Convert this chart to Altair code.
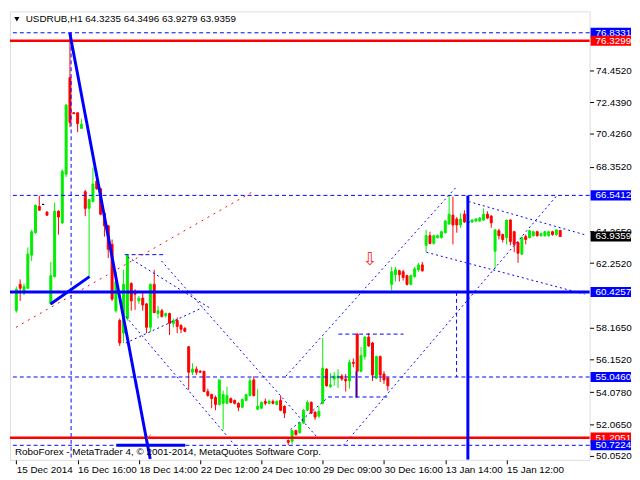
import altair as alt
import pandas as pd

# ---------------- data ----------------
opens = [59.24, 60.91, 60.35, 60.66, 62.76, 64.18, 65.84, 65.97, 65.48, 59.67,
         61.40, 65.54, 64.80, 67.88, 73.99, 71.77, 71.77, 70.78, 66.77, 65.72,
         66.15, 67.45, 66.96, 65.41, 64.61, 63.44, 59.24, 58.62, 57.82, 58.75,
         60.97, 60.47, 59.86, 60.04, 59.67, 58.19, 60.91, 59.06, 59.24, 58.93,
         59.06, 58.44, 58.62, 58.31, 58.13, 56.96, 55.35, 55.54, 55.41, 55.41,
         54.12, 53.93, 53.75, 53.31, 53.38, 53.38, 53.68, 53.56, 53.38, 53.13,
         53.56, 53.87, 54.86, 53.01, 53.07, 53.50, 53.38, 53.50, 53.31, 53.56,
         53.19, 51.03, 50.97, 51.65, 51.52, 52.14, 52.94, 53.44, 52.82, 52.57,
         53.38, 55.54, 54.43, 54.92, 54.98, 55.10, 54.92, 54.80, 55.97, 57.76,
         55.41, 56.34, 57.57, 57.20, 54.98, 56.34, 55.23, 54.98, 60.91, 61.52,
         61.77, 61.71, 61.46, 60.91, 61.40, 61.83, 62.14, 63.38, 63.99, 63.50,
         63.87, 63.87, 64.18, 64.73, 65.29, 65.04, 64.67, 65.35, 64.80, 64.86,
         64.92, 64.92, 64.98, 65.35, 65.23, 63.01, 64.30, 64.06, 63.87, 64.98,
         64.24, 63.56, 62.82, 63.93, 63.87, 63.99, 64.24, 63.99, 63.99, 63.99,
         64.24, 64.06, 64.3235]
highs = [60.78, 61.22, 60.97, 63.25, 64.36, 65.97, 66.52, 65.97, 65.54, 62.33,
         66.09, 65.60, 68.19, 72.33, 76.83, 71.80, 71.77, 71.40, 66.89, 66.28,
         68.31, 67.51, 67.02, 65.54, 64.67, 63.75, 61.71, 58.75, 61.83, 62.76,
         61.03, 60.60, 60.17, 60.47, 59.73, 60.97, 61.83, 59.55, 59.36, 59.12,
         59.12, 58.75, 58.81, 58.38, 58.19, 57.01, 55.91, 55.72, 55.48, 55.41,
         54.30, 53.99, 53.87, 54.86, 54.18, 54.43, 53.75, 53.62, 53.44, 53.68,
         53.99, 54.98, 55.10, 54.30, 53.50, 53.68, 53.62, 53.62, 53.56, 53.87,
         53.25, 51.09, 51.71, 51.71, 52.20, 53.01, 53.56, 53.50, 52.88, 53.19,
         57.51, 55.60, 55.29, 55.35, 55.54, 55.23, 55.23, 56.15, 56.22, 57.82,
         56.96, 57.63, 57.82, 57.26, 56.40, 56.40, 55.41, 55.04, 62.02, 62.02,
         61.83, 61.83, 61.52, 61.52, 62.02, 62.27, 62.33, 64.36, 64.24, 64.06,
         64.06, 64.30, 64.98, 66.52, 66.46, 65.17, 65.41, 65.60, 65.11, 65.04,
         65.11, 65.17, 65.72, 65.54, 65.29, 64.36, 64.43, 64.12, 64.98, 65.04,
         64.30, 63.62, 63.93, 64.06, 64.36, 64.30, 64.30, 64.18, 64.30, 64.30,
         64.30, 64.36, 64.3496]
lows = [59.12, 59.86, 60.23, 60.60, 62.39, 64.12, 65.60, 65.97, 65.23, 59.61,
        61.34, 64.06, 64.73, 67.70, 70.85, 71.70, 70.54, 70.78, 65.23, 61.40,
        66.09, 66.89, 65.29, 63.93, 62.57, 59.86, 59.12, 57.01, 57.20, 58.62,
        59.24, 59.30, 59.67, 59.24, 57.82, 57.88, 59.12, 58.75, 58.81, 58.81,
        57.70, 58.19, 57.82, 57.82, 57.88, 54.24, 55.17, 55.17, 55.29, 54.10,
        53.81, 53.07, 52.94, 53.25, 51.71, 53.31, 53.38, 53.31, 52.88, 53.07,
        53.50, 53.81, 53.81, 52.94, 53.01, 53.25, 53.31, 53.31, 53.25, 52.88,
        52.45, 50.72, 50.78, 51.34, 51.46, 52.08, 52.88, 52.70, 52.33, 52.45,
        53.31, 54.43, 54.36, 54.49, 54.36, 54.80, 54.12, 54.30, 55.66, 53.75,
        55.35, 56.15, 56.96, 54.80, 54.92, 54.73, 54.61, 54.18, 60.54, 61.09,
        61.09, 61.15, 60.84, 60.84, 61.34, 61.71, 61.71, 62.94, 63.44, 63.44,
        63.81, 63.81, 64.12, 64.67, 63.44, 64.18, 64.49, 64.80, 64.73, 64.80,
        64.86, 64.86, 64.92, 65.04, 64.49, 61.89, 63.75, 63.56, 63.44, 63.38,
        62.94, 62.27, 62.76, 63.44, 63.81, 63.93, 63.93, 63.93, 63.93, 63.93,
        63.99, 63.99, 63.9279]
closes = [60.60, 60.66, 60.78, 62.82, 64.24, 65.91, 65.60, 65.97, 65.29, 61.46,
          65.54, 65.17, 68.07, 72.26, 71.15, 71.71, 71.09, 71.03, 65.72, 66.28,
          67.26, 66.96, 65.35, 64.61, 63.13, 59.98, 61.09, 57.20, 60.91, 62.76,
          59.86, 60.29, 60.04, 59.61, 58.19, 60.91, 59.12, 59.24, 58.87, 59.06,
          58.44, 58.62, 58.25, 58.07, 57.94, 55.35, 55.54, 55.35, 55.35, 54.12,
          53.87, 53.68, 53.31, 54.86, 53.93, 53.87, 53.44, 53.38, 53.13, 53.62,
          53.93, 54.80, 53.87, 53.19, 53.44, 53.38, 53.50, 53.38, 53.50, 52.94,
          52.76, 50.91, 51.65, 51.40, 52.14, 52.94, 53.44, 52.76, 52.51, 52.88,
          55.60, 54.49, 54.55, 55.10, 55.10, 54.92, 54.80, 55.97, 55.91, 55.41,
          56.40, 57.57, 57.01, 55.17, 56.34, 55.17, 54.86, 54.49, 61.71, 61.83,
          61.52, 61.34, 60.91, 61.46, 61.89, 62.14, 61.77, 63.99, 63.50, 63.99,
          63.99, 64.24, 64.92, 65.35, 64.67, 64.67, 65.04, 64.86, 64.92, 64.98,
          65.04, 65.11, 65.35, 65.11, 64.80, 64.36, 63.99, 63.75, 64.98, 63.62,
          63.44, 62.88, 63.87, 63.75, 64.30, 64.24, 63.99, 64.12, 64.24, 64.24,
          64.06, 64.36, 63.9359]

x_tick_pos = [0, 16, 32, 48, 64, 80, 96, 112, 128]
x_tick_labels = ["15 Dec 2014", "16 Dec 16:00", "18 Dec 14:00", "22 Dec 12:00",
                 "24 Dec 10:00", "29 Dec 09:00", "30 Dec 16:00", "13 Jan 14:00",
                 "15 Jan 12:00"]
y_ticks = [74.4520, 72.4390, 70.4260, 68.3520, 64.2650, 62.2520,
           58.1650, 56.1520, 54.0780, 52.0650, 50.0520]

level_values = [76.8331, 76.3299, 66.5412, 63.9359, 60.4257, 55.0460, 51.2051, 50.7224]
level_colors = ["#0000ff", "#ff0000", "#0000ff", "#000000", "#0000ff", "#0000ff", "#ff0000", "#0000ff"]

dashed_levels = [76.8331, 66.5412, 55.0460, 50.7224]
red_levels = [76.3299, 51.2051]
blue_levels = [60.4257]

# segments: (bar_start, price_start, bar_end, price_end)
thick_blue = [(13.95, 76.83, 34.95, 49.86), (8.95, 59.67, 19.1, 61.40),
              (26.1, 50.72, 44.1, 50.72), (117.9, 66.5412, 117.9, 49.80)]
thin_blue = [(88.75, 55.41, 88.75, 53.75)]
dashed_blue = [(14.3, 76.8331, 14.3, 49.80), (114.95, 60.4257, 114.95, 55.046),
               (28.3, 62.79, 39.1, 62.79), (84.1, 57.76, 101.1, 57.76),
               (81.4, 53.78, 97.1, 53.78)]
dotted_blue = [(29.1, 62.64, 50.4, 59.43), (37.9, 62.39, 78.6, 51.22),
               (28.6, 58.87, 57.9, 50.48), (28.6, 57.20, 48.6, 59.43),
               (70.4, 55.10, 114.9, 67.08), (71.6, 51.71, 81.4, 53.75),
               (85.4, 50.72, 141.1, 66.52), (118.1, 66.15, 148.4, 64.05),
               (107.1, 62.94, 148.4, 60.29)]
dotted_red = [(-0.1, 58.19, 62.1, 66.83)]

title_text = "USDRUB,H1  64.3235 64.3496 63.9279 63.9359"
footer_text = "RoboForex - MetaTrader 4, © 2001-2014, MetaQuotes Software Corp."

# ---------------- chart ----------------
W, H = 588, 455
FONT = "Liberation Sans"
GREEN, RED, BLUE = "#00ee00", "#ff0000", "#0000ff"
xs = alt.Scale(domain=[-0.375, 148.4], nice=False, zero=False)
ys = alt.Scale(domain=[49.80, 78.19], nice=False, zero=False)

n = len(opens)
df = pd.DataFrame({"b": list(range(n)), "o": opens, "h": highs, "l": lows, "c": closes})
df["dir"] = ["up" if c > o else ("down" if c < o else "flat") for o, c in zip(opens, closes)]
cscale = alt.Scale(domain=["up", "down", "flat"], range=[GREEN, RED, "#000000"])

label_expr = "''"
for pos, lab in reversed(list(zip(x_tick_pos, x_tick_labels))):
    label_expr = f"datum.value == {pos} ? '{lab}' : " + label_expr

xaxis = alt.Axis(values=x_tick_pos, labelExpr=label_expr, labelAlign="left",
                 labelPadding=1, tickSize=4, tickColor="black", domain=False,
                 grid=False, labelFont=FONT, labelFontSize=10, labelColor="black",
                 title=None, labelOverlap=False, labelFlush=False, labelBound=False)
yaxis = alt.Axis(orient="right", values=y_ticks, format=".4f", tickSize=4,
                 tickColor="black", labelPadding=2, domain=False, grid=False,
                 labelFont=FONT, labelFontSize=10, labelColor="black", title=None,
                 labelOverlap=False, labelFlush=False, labelBound=False)


def X(field):
    return alt.X(field, scale=xs, axis=xaxis)


def Y(field):
    return alt.Y(field, scale=ys, axis=yaxis)


wicks = alt.Chart(df).mark_rule(strokeWidth=1).encode(
    x=X("b:Q"), y=Y("l:Q"), y2="h:Q",
    color=alt.Color("dir:N", scale=cscale, legend=None),
)
bodies = alt.Chart(df).mark_bar(width=2, strokeWidth=1).encode(
    x=X("b:Q"), y=Y("o:Q"), y2="c:Q",
    color=alt.Color("dir:N", scale=cscale, legend=None),
    stroke=alt.Stroke("dir:N", scale=cscale, legend=None),
)


def seg_layer(segs, color, width, dash=None):
    d = pd.DataFrame(segs, columns=["x", "y", "x2", "y2"])
    kw = dict(color=color, strokeWidth=width, clip=True)
    if dash:
        kw["strokeDash"] = dash
    return alt.Chart(d).mark_rule(**kw).encode(
        x=X("x:Q"), y=Y("y:Q"), x2="x2:Q", y2="y2:Q")


def level_layer(vals, color, width, dash=None):
    d = pd.DataFrame({"v": vals})
    kw = dict(color=color, strokeWidth=width)
    if dash:
        kw["strokeDash"] = dash
    return alt.Chart(d).mark_rule(**kw).encode(y=Y("v:Q"))


lvl_df = pd.DataFrame({"v": level_values, "bg": level_colors,
                       "lab": [f"{v:.4f}" for v in level_values]})
boxes = []
for i in range(len(level_values)):
    sub = lvl_df.iloc[[i]]
    boxes.append(alt.Chart(sub).mark_point(
        shape="M-1,-0.25L1,-0.25L1,0.25L-1,0.25Z", size=1681, filled=True,
        opacity=1, strokeWidth=0).encode(
        x=alt.value(W + 21.5), y=Y("v:Q"),
        color=alt.Color("bg:N", scale=None)))
    boxes.append(alt.Chart(sub).mark_text(
        align="left", baseline="middle", font=FONT, fontSize=10, color="white").encode(
        x=alt.value(W + 6), y=Y("v:Q"), text="lab:N"))

title = alt.Chart(pd.DataFrame({"t": [title_text]})).mark_text(
    align="left", baseline="middle", font=FONT, fontSize=10, color="black").encode(
    x=alt.value(16), y=alt.value(8), text="t:N")
tri = alt.Chart(pd.DataFrame({"t": [0]})).mark_point(
    shape="triangle-down", filled=True, size=28, color="black", opacity=1).encode(
    x=alt.value(7), y=alt.value(8))
footer = alt.Chart(pd.DataFrame({"t": [footer_text]})).mark_text(
    align="left", baseline="middle", font=FONT, fontSize=10, color="black").encode(
    x=alt.value(5), y=alt.value(447), text="t:N")

arrow = alt.Chart(pd.DataFrame({"b": [92.4], "p": [62.45], "t": ["⇩"]})).mark_text(
    font="DejaVu Sans", fontSize=18, color="#ff3030").encode(
    x=X("b:Q"), y=Y("p:Q"), text="t:N")
check = alt.Chart(pd.DataFrame({"b": [34.6], "p": [51.22], "t": ["✓"]})).mark_text(
    font="DejaVu Sans", fontSize=9, color="#ff3030").encode(
    x=X("b:Q"), y=Y("p:Q"), text="t:N")

layers = [
    wicks, bodies,
    seg_layer(dotted_red, RED, 1, [2, 5]),
    seg_layer(dotted_blue, BLUE, 1, [2, 3]),
    seg_layer(dashed_blue, BLUE, 1, [4, 3]),
    seg_layer(thin_blue, BLUE, 1.5),
    level_layer(dashed_levels, BLUE, 1, [4, 3]),
    level_layer(red_levels, RED, 2.5),
    level_layer(blue_levels, BLUE, 3),
    seg_layer(thick_blue, BLUE, 3),
    arrow, check, tri, title, footer,
] + boxes

chart = alt.layer(*layers).properties(
    width=W, height=H, padding={"left": 0, "top": 0, "right": 0, "bottom": 0}
).configure_view(stroke="black", strokeWidth=1).configure(background="white")

chart.save("out.html", embed_options={"renderer": "svg", "actions": False})
